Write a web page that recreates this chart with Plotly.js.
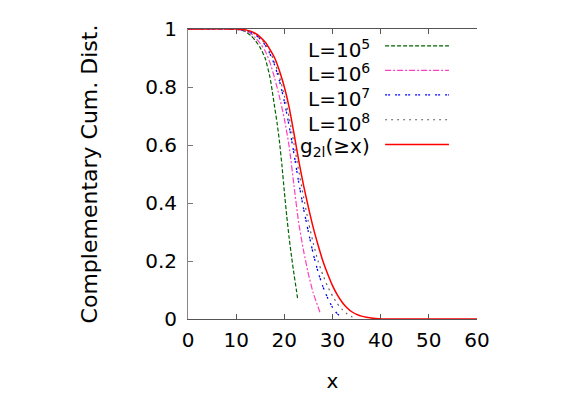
<!DOCTYPE html>
<html>
<head>
<meta charset="utf-8">
<script src="https://cdn.plot.ly/plotly-3.0.1.min.js"></script>
<style>
  body { margin: 0; background: #fff; }
  #graph { width: 568px; height: 398px; }
</style>
</head>
<body>
<div id="graph"></div>
<script>
// values
var xL5 = [0, 8, 10, 11, 12, 13, 14, 15, 16, 17, 17.5, 18, 18.5, 19, 19.5, 20, 20.5, 21, 21.5, 22, 22.5, 22.8];
var yL5 = [1, 1, 0.999, 0.997, 0.99, 0.978, 0.96, 0.935, 0.9, 0.835, 0.785, 0.73, 0.675, 0.61, 0.53, 0.44, 0.355, 0.28, 0.215, 0.155, 0.1, 0.065];

var xL6 = [0, 10, 12, 13, 14, 15, 16, 17, 18, 19, 20, 21, 22, 23, 24, 25, 26, 27, 27.4];
var yL6 = [1, 0.999, 0.993, 0.985, 0.97, 0.95, 0.925, 0.885, 0.83, 0.765, 0.69, 0.595, 0.46, 0.33, 0.235, 0.155, 0.09, 0.042, 0.023];

var xL7 = [0, 10, 12, 14, 15, 16, 17, 18, 19, 20, 21, 22, 23, 24, 25, 26, 27, 28, 29, 30, 31, 32];
var yL7 = [1, 1, 0.995, 0.98, 0.965, 0.945, 0.915, 0.875, 0.82, 0.75, 0.665, 0.57, 0.47, 0.38, 0.3, 0.225, 0.163, 0.112, 0.072, 0.04, 0.018, 0.005];

var xL8 = [0, 10, 12, 14, 16, 17, 18, 19, 20, 21, 22, 23, 24, 25, 26, 27, 28, 29, 30, 31, 32, 33, 34, 34.8];
var yL8 = [1, 1, 0.996, 0.982, 0.95, 0.922, 0.885, 0.835, 0.77, 0.695, 0.605, 0.51, 0.42, 0.335, 0.262, 0.2, 0.152, 0.112, 0.08, 0.053, 0.033, 0.018, 0.008, 0.003];

var xG = [0, 10, 12, 14, 16, 17, 18, 19, 20, 21, 22, 23, 24, 25, 26, 27, 28, 29, 30, 31, 32, 33, 34, 35, 36, 37, 38, 39, 40, 45, 50, 55, 60];
var yG = [1, 1, 0.997, 0.985, 0.955, 0.93, 0.9, 0.855, 0.8, 0.73, 0.64, 0.545, 0.46, 0.385, 0.315, 0.255, 0.2, 0.155, 0.115, 0.083, 0.058, 0.039, 0.025, 0.016, 0.01, 0.006, 0.0035, 0.002, 0.001, 0, 0, 0, 0];

var names = ["L=10<sup>5</sup>", "L=10<sup>6</sup>", "L=10<sup>7</sup>", "L=10<sup>8</sup>", "g<sub>2l</sub>(\u2265x)"];
var colors = ["#006400", "#ff3fbf", "#0000ff", "#606060", "#ff0000"];
var dashes = ["4px,2px", "6px,2px,2px,2px", "2px,1px,2px,5px", "2px,4px", "solid"];
var widths = [1.2, 1.2, 1.3, 1.2, 1.5];

var xs = [xL5, xL6, xL7, xL8, xG];
var ys = [yL5, yL6, yL7, yL8, yG];

var font = "DejaVu Sans, Verdana, sans-serif";

var data = [];
for (var i = 0; i < xs.length; i++) {
  data.push({
    x: xs[i],
    y: ys[i],
    type: 'scatter',
    mode: 'lines',
    name: names[i],
    line: { color: colors[i], dash: dashes[i], width: widths[i], shape: 'spline', smoothing: 0.6 },
    showlegend: false
  });
}

// gnuplot style key: label on the left, sample on the right
var keyY = [0.942, 0.857, 0.773, 0.687, 0.602];
var textY = [0.932, 0.847, 0.763, 0.677, 0.594];
var annotations = [];
var shapes = [];
for (var k = 0; k < names.length; k++) {
  annotations.push({
    xref: 'paper', yref: 'paper',
    x: 0.635, y: textY[k],
    xanchor: 'right', yanchor: 'middle',
    text: names[k],
    showarrow: false,
    font: { family: font, size: 20, color: '#000' }
  });
  shapes.push({
    type: 'line', xref: 'paper', yref: 'paper',
    x0: 0.682, x1: 0.903, y0: keyY[k], y1: keyY[k],
    line: { color: colors[k], dash: dashes[k], width: widths[k] }
  });
}

var layout = {
  width: 568,
  height: 398,
  margin: { l: 188, r: 91, t: 29, b: 79 },
  paper_bgcolor: '#fff',
  plot_bgcolor: '#fff',
  font: { family: font, size: 20, color: '#000' },
  showlegend: false,
  xaxis: {
    range: [0, 60],
    tickvals: [0, 10, 20, 30, 40, 50, 60],
    ticks: 'inside',
    ticklen: 5,
    tickcolor: '#555',
    showline: true,
    linecolor: '#555',
    linewidth: 1,
    mirror: 'ticks',
    showgrid: false,
    zeroline: false,
    ticklabelstandoff: 3,
    tickfont: { family: font, size: 20 },
    title: { text: 'x', font: { family: font, size: 20 }, standoff: 22 }
  },
  yaxis: {
    range: [0, 1],
    tickvals: [0, 0.2, 0.4, 0.6, 0.8, 1],
    ticktext: ['0', '0.2', '0.4', '0.6', '0.8', '1'],
    ticks: 'inside',
    ticklen: 5,
    tickcolor: '#777',
    showline: true,
    linecolor: '#888',
    linewidth: 1,
    showgrid: false,
    zeroline: false,
    ticklabelstandoff: 6,
    tickfont: { family: font, size: 20 },
    title: { text: 'Complementary Cum. Dist.', font: { family: font, size: 22 }, standoff: 41 }
  },
  annotations: annotations,
  shapes: shapes
};

Plotly.newPlot('graph', data, layout, { staticPlot: true });
</script>
</body>
</html>
